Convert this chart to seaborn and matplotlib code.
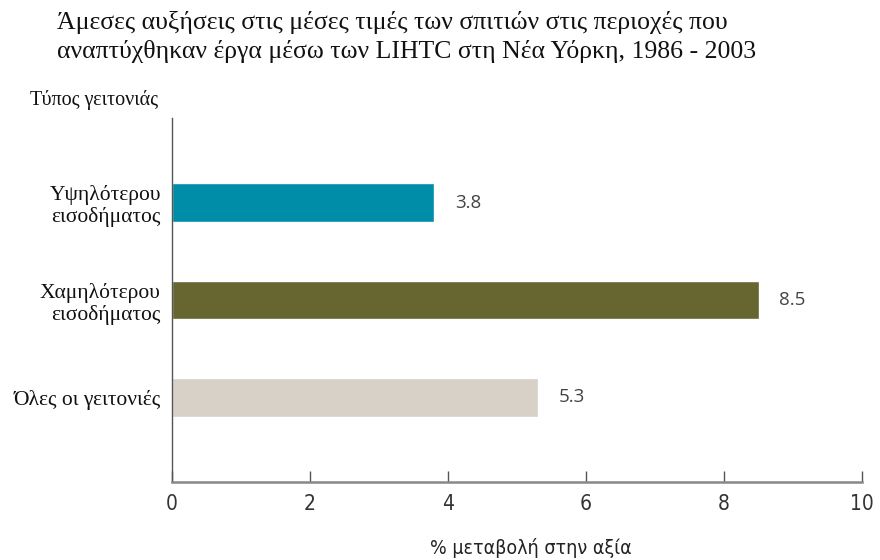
import matplotlib
matplotlib.use("Agg")
import matplotlib.pyplot as plt
import seaborn as sns
import pandas as pd

# Data
categories = ["Υψηλότερου\nεισοδήματος", "Χαμηλότερου\nεισοδήματος", "Όλες οι γειτονιές"]
values = [3.8, 8.5, 5.3]
colors = ["#008DA8", "#676530", "#D8D1C7"]
xticks = [0, 2, 4, 6, 8, 10]

df = pd.DataFrame({"category": categories, "value": values})

sns.set_theme(style="white")
serif = ["Liberation Serif", "DejaVu Serif"]
narrow = ["DejaVu Sans"]
plt.rcParams["font.family"] = serif

fig = plt.figure(figsize=(8.8, 5.6), dpi=100)
ax = fig.add_axes([172 / 880, 1 - 482 / 560, 690 / 880, 364 / 560])

sns.barplot(data=df, x="value", y="category", hue="category", palette=colors,
            legend=False, width=0.4, orient="h", ax=ax, saturation=1)

ax.set_xlim(0, 10)
ax.set_ylim(2.87, -0.87)
ax.set_xticks(xticks)
ax.set_xticklabels([str(t) for t in xticks], family=narrow, fontstretch="condensed",
                   fontsize=15, color="#333333")
ax.tick_params(axis="x", direction="in", length=8, width=1, color="#555555",
               pad=9, bottom=True)
ax.tick_params(axis="y", length=0, pad=8)
for lbl in ax.get_yticklabels():
    lbl.set_fontsize(15.5)
    lbl.set_color("#111111")
    lbl.set_family(serif)
    lbl.set_multialignment("right")
    lbl.set_linespacing(1.15)

for side in ["top", "right"]:
    ax.spines[side].set_visible(False)
ax.spines["left"].set_color("#555555")
ax.spines["left"].set_linewidth(1)
ax.spines["bottom"].set_color("#888888")
ax.spines["bottom"].set_linewidth(1.8)

ax.set_ylabel("")
ax.set_xlabel("% μεταβολή στην αξία", family=narrow, fontstretch="condensed",
              fontsize=14, color="#222222")
ax.xaxis.set_label_coords(0.52, -0.181)
ax.xaxis.label.set_va("center")

for i, v in enumerate(values):
    ax.text(v + 0.3, i, f"{v}", va="center", ha="left", fontsize=13.5,
            color="#444444", family=["Open Sans", "DejaVu Sans"])

fig.text(57 / 880, 1 - 37 / 560,
         "Άμεσες αυξήσεις στις μέσες τιμές των σπιτιών στις περιοχές που\n"
         "αναπτύχθηκαν έργα μέσω των LIHTC στη Νέα Υόρκη, 1986 - 2003",
         fontsize=18.5, va="center", ha="left", linespacing=1.3, color="#111111")
fig.text(30 / 880, 1 - 100 / 560, "Τύπος γειτονιάς", fontsize=14.5,
         va="center", ha="left", color="#111111")

fig.savefig("out.png", dpi=100)
